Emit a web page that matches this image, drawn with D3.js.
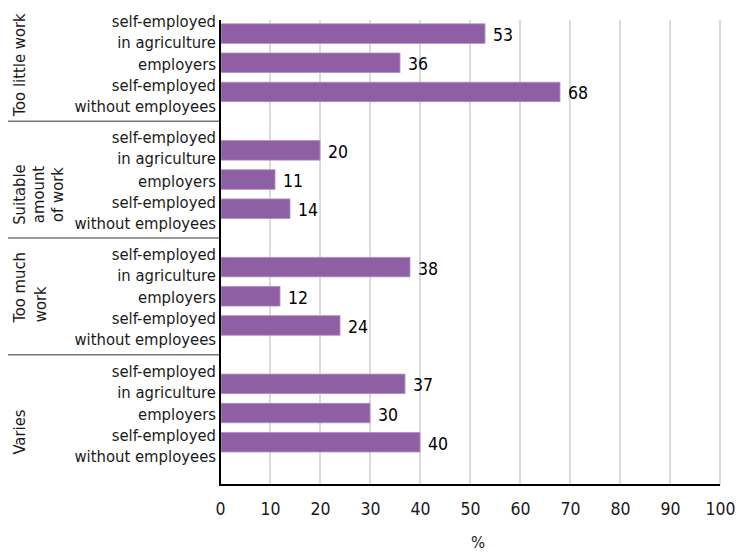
<!DOCTYPE html>
<html>
<head>
<meta charset="utf-8">
<script src="https://cdn.jsdelivr.net/npm/d3@7"></script>
<style>
  html, body { margin: 0; padding: 0; background: #fff; }
  svg { display: block; }
  text { font-family: "DejaVu Sans Condensed", "Liberation Sans Narrow", "Liberation Sans", sans-serif; font-stretch: condensed; fill: #1a1a1a; }
</style>
</head>
<body>
<svg id="chart" width="739" height="553"></svg>
<script>
// ---- data ----
const groups = ["Too little work", "Suitable amount of work", "Too much work", "Varies"];
const groupLines = [["Too little work"], ["Suitable", "amount", "of work"], ["Too much", "work"], ["Varies"]];
const subcats = ["self-employed in agriculture", "employers", "self-employed without employees"];
const subcatLines = [["self-employed", "in agriculture"], ["employers"], ["self-employed", "without employees"]];
const values = [
  [53, 36, 68],
  [20, 11, 14],
  [38, 12, 24],
  [37, 30, 40]
];
const xTicks = [0, 10, 20, 30, 40, 50, 60, 70, 80, 90, 100];
const xTitle = "%";

// ---- layout ----
const svg = d3.select("#chart");
const mLeft = 220, mRight = 720, mTop = 19, mBottom = 486;
const color = "#8f5fa3";
const labelSize = 16.5, numSize = 17.5;

const x = d3.scaleLinear().domain([0, 100]).range([mLeft, mRight]);
const yGroup = d3.scaleBand().domain(groups).range([mTop, mBottom]).padding(0);
const ySlots = subcats.concat(["_gap"]);
const yInner = d3.scaleBand().domain(ySlots).range([0, yGroup.bandwidth()]).paddingInner(0.33).paddingOuter(0.165);

// gridlines
svg.append("g").selectAll("line").data(xTicks.filter(d => d > 0)).join("line")
  .attr("x1", d => x(d)).attr("x2", d => x(d))
  .attr("y1", 20).attr("y2", 485)
  .attr("stroke", "#cfcfcf").attr("stroke-width", 1.5);

// bars
const rows = [];
groups.forEach((g, gi) => subcats.forEach((s, si) => rows.push({g, gi, s, si, v: values[gi][si]})));
const rowY = d => yGroup(d.g) + yInner(d.s);
const rowC = d => rowY(d) + yInner.bandwidth() / 2;

svg.append("g").selectAll("rect").data(rows).join("rect")
  .attr("x", x(0) + 1)
  .attr("y", d => rowY(d))
  .attr("width", d => x(d.v) - x(0) - 1)
  .attr("height", yInner.bandwidth())
  .attr("fill", color)
  .attr("stroke", "#b58fc6").attr("stroke-width", 0.8);

// value labels
svg.append("g").selectAll("text").data(rows).join("text")
  .attr("x", d => x(d.v) + 8)
  .attr("y", d => rowC(d) + 7.5)
  .attr("font-size", numSize)
  .style("fill", "#000")
  .text(d => d.v);

// subcategory labels
const subDy = [[-7, 14], [7], [-1, 20]];
const lab = svg.append("g");
rows.forEach(d => {
  subcatLines[d.si].forEach((line, li) => {
    lab.append("text")
      .attr("x", 216)
      .attr("y", rowC(d) + subDy[d.si][li])
      .attr("text-anchor", "end")
      .attr("font-size", labelSize)
      .text(line);
  });
});

// group separators
svg.append("g").selectAll("line").data(groups.slice(0, -1)).join("line")
  .attr("x1", 8).attr("x2", mLeft)
  .attr("y1", g => yGroup(g) + yInner("_gap") + yInner.bandwidth() / 2)
  .attr("y2", g => yGroup(g) + yInner("_gap") + yInner.bandwidth() / 2)
  .attr("stroke", "#777").attr("stroke-width", 1.5);

// group labels (rotated)
const gCenterOff = [[2], [15, 15, 15], [-9, 8], [19]];
const gBase = [[25], [25, 44, 63], [25, 46], [25]];
groups.forEach((g, gi) => {
  const c = yGroup(g) + yInner("employers") + yInner.bandwidth() / 2;
  groupLines[gi].forEach((line, li) => {
    const cy = c + gCenterOff[gi][li];
    const bx = gBase[gi][li];
    svg.append("text")
      .attr("transform", `translate(${bx},${cy}) rotate(-90)`)
      .attr("text-anchor", "middle")
      .attr("font-size", labelSize)
      .text(line);
  });
});

// axes lines
svg.append("line").attr("x1", mLeft).attr("x2", mLeft).attr("y1", 20).attr("y2", 486)
  .attr("stroke", "#000").attr("stroke-width", 2);
svg.append("line").attr("x1", mLeft - 1).attr("x2", mRight).attr("y1", 485).attr("y2", 485)
  .attr("stroke", "#000").attr("stroke-width", 2);

// x tick labels
const xAxis = d3.axisBottom(x).tickValues(xTicks).tickSize(0).tickPadding(0).tickFormat(d3.format("d"));
const ax = svg.append("g").attr("transform", "translate(0,485)").call(xAxis);
ax.select(".domain").remove();
ax.attr("font-family", null).attr("font-size", null);
ax.selectAll("text").attr("dy", null).attr("y", 30).attr("font-size", numSize).style("fill", "#1a1a1a");

// x title
svg.append("text").attr("x", 478).attr("y", 548).attr("text-anchor", "middle")
  .attr("font-size", labelSize).text(xTitle);
</script>
</body>
</html>
